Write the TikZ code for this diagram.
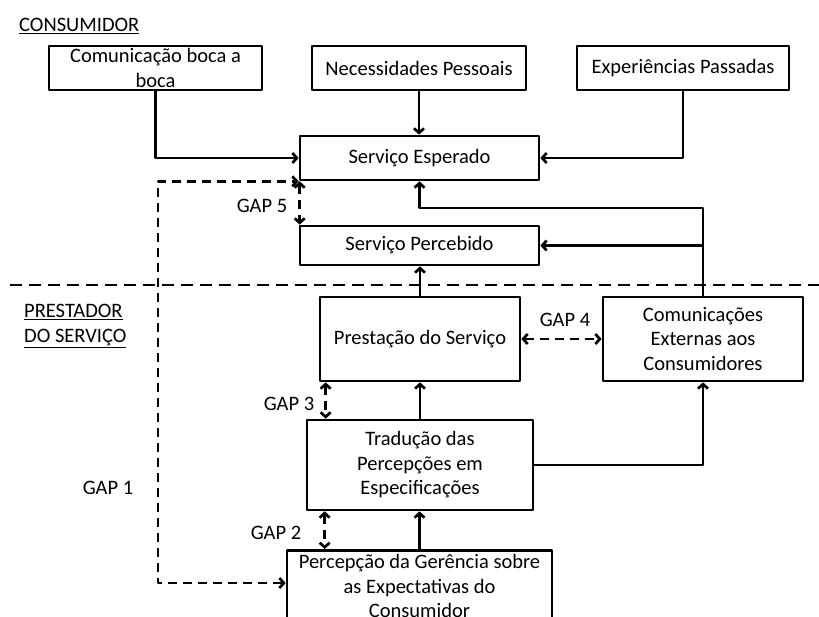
\documentclass[tikz,border=0pt]{standalone}
\usepackage{fontspec}
\setmainfont{Carlito}
\usetikzlibrary{arrows.meta}

\begin{document}
\begin{tikzpicture}[x=1pt, y=-1pt, line join=round, >={Straight Barb[length=4.5pt,width=10pt]},
  box/.style={draw, line width=2.7pt, inner sep=0pt, align=center, font=\fontsize{20.5}{24.5}\selectfont},
  lbl/.style={inner sep=0pt, align=left, font=\fontsize{20.5}{24.5}\selectfont},
  conn/.style={line width=2.7pt, ->},
  gapline/.style={line width=2.7pt, dash pattern=on 9pt off 6pt, <->}]
\useasboundingbox (0,0) rectangle (819,616);
\clip (0,0) rectangle (819,616);

% consumidor
\node[lbl, anchor=west] (consumidor) at (19,26) {\underline{CONSUMIDOR}};
\node[box, minimum width=213, minimum height=44] (boca) at (155.5,68) {Comunicação boca a\\boca};
\node[box, minimum width=214, minimum height=44] (necess) at (419,68) {Necessidades Pessoais};
\node[box, minimum width=212, minimum height=44] (exper) at (683,68) {Experiências Passadas};
\node[box, minimum width=239, minimum height=44] (esperado) at (419.5,158) {Serviço Esperado};
\node[box, minimum width=239, minimum height=39] (percebido) at (419.5,245.5) {Serviço Percebido};

% fronteira
\draw[line width=2.7pt, dash pattern=on 12pt off 7pt] (10,285) -- (819,285);

% prestador
\node[lbl, anchor=west] (prestador) at (24,326) {\underline{PRESTADOR}\\\underline{DO SERVIÇO}};
\node[box, minimum width=200, minimum height=84] (prestacao) at (420,339) {Prestação do Serviço};
\node[box, minimum width=200, minimum height=84] (comext) at (703,339) {Comunicações\\Externas aos\\Consumidores};
\node[box, minimum width=226, minimum height=90] (traducao) at (420,465) {Tradução das\\Percepções em\\Especificações};
\node[box, minimum width=265, minimum height=72, anchor=north] (gerencia) at (419.5,549) {Percepção da Gerência sobre\\as Expectativas do\\Consumidor};

% fluxos
\draw[conn] (boca.south) |- (esperado.west);
\draw[conn] (necess.south) -- (necess.south |- esperado.north);
\draw[conn] (exper.south) |- (esperado.east);
\coordinate (retorno) at (703,208);
\draw[conn] (comext.north) -- (retorno) -| (esperado.south);
\draw[conn] (comext.north |- percebido.east) -- (percebido.east);
\draw[conn] (prestacao.north) -- (prestacao.north |- percebido.south);
\draw[conn] (traducao.north) -- (prestacao.south);
\draw[conn] (gerencia.north) -- (gerencia.north |- traducao.south);
\draw[conn] (traducao.east) -| (comext.south);

% gaps
\coordinate (g1) at (158,583);
\draw[gapline] (g1 -| gerencia.west) -- (g1) |- (esperado.south west);
\node[lbl] (gap1) at (108,488) {GAP 1};
\draw[gapline] ([xshift=19pt]traducao.south west) -- ([xshift=19pt]traducao.south west |- gerencia.north);
\node[lbl] (gap2) at (276,533) {GAP 2};
\draw[gapline] ([xshift=7pt]prestacao.south west) -- ([xshift=7pt]prestacao.south west |- traducao.north);
\node[lbl] (gap3) at (289,404) {GAP 3};
\draw[gapline] (prestacao.east) -- (comext.west);
\node[lbl] (gap4) at (565,320) {GAP 4};
\draw[gapline] ([xshift=1pt]esperado.south west) -- ([xshift=1pt]percebido.north west);
\node[lbl] (gap5) at (262,206) {GAP 5};
\end{tikzpicture}
\end{document}
